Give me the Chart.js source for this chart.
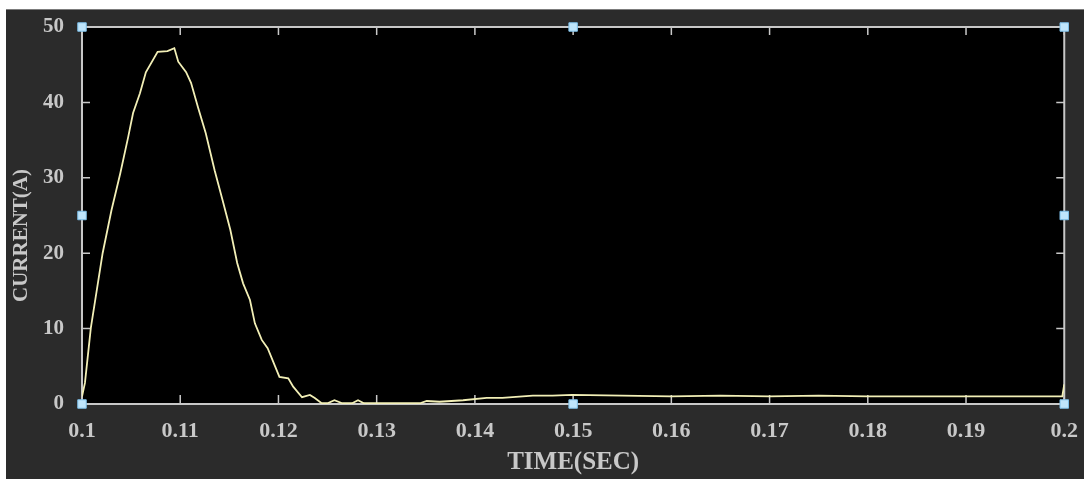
<!DOCTYPE html>
<html>
<head>
<meta charset="utf-8">
<script src="https://cdn.jsdelivr.net/npm/chart.js@4.4.1/dist/chart.umd.min.js"></script>
<style>
  body { margin: 0; background: #ffffff; }
  #bg { position: absolute; left: 6px; top: 9px; width: 1078px; height: 470px; background: #2b2b2b; border-top: 1px solid #7c7c7c; box-sizing: border-box; }
  #chart { position: absolute; left: 6px; top: 9px; }
</style>
</head>
<body>
<div id="bg"></div>
<canvas id="chart" width="1078" height="470"></canvas>
<script>
// current trace
const timeValues = [0.1000, 0.1003, 0.1009, 0.1021, 0.1030, 0.1039, 0.1047, 0.1052, 0.1059, 0.1065,
  0.1077, 0.1087, 0.1094, 0.1098, 0.1106, 0.1111, 0.1118, 0.1126, 0.1135, 0.1143,
  0.1151, 0.1158, 0.1164, 0.1171, 0.1176, 0.1183, 0.1189, 0.1201, 0.1210, 0.1215,
  0.1224, 0.1232, 0.1237, 0.1244, 0.1250, 0.1257, 0.1265, 0.1275, 0.1281, 0.1287,
  0.1308, 0.1344, 0.1351, 0.1364, 0.1388, 0.1412, 0.1428, 0.1459, 0.1479, 0.1499,
  0.1550, 0.1600, 0.1650, 0.1700, 0.1750, 0.1800, 0.1850, 0.1900, 0.1950, 0.1998, 0.2000];
const currentValues = [1.0, 2.8, 10.1, 20.0, 25.7, 30.6, 35.4, 38.6, 41.2, 44.0,
  46.7, 46.8, 47.2, 45.4, 44.0, 42.6, 39.4, 35.9, 31.0, 27.1,
  23.1, 18.7, 16.0, 13.8, 10.7, 8.5, 7.4, 3.6, 3.4, 2.3,
  0.9, 1.2, 0.8, 0.1, 0.1, 0.5, 0.1, 0.1, 0.5, 0.1,
  0.1, 0.1, 0.4, 0.3, 0.5, 0.8, 0.8, 1.1, 1.1, 1.2,
  1.1, 1.0, 1.1, 1.0, 1.1, 1.0, 1.0, 1.0, 1.0, 1.0, 2.6];

// selection handles round the axes box
const handleX = [0.1, 0.15, 0.2, 0.1, 0.2, 0.1, 0.15, 0.2];
const handleY = [50, 50, 50, 25, 25, 0, 0, 0];

const xTitle = 'TIME(SEC)';
const yTitle = 'CURRENT(A)';

const serif = "'Liberation Serif', 'Times New Roman', serif";
const axisColor = '#c8c8c8';

const trace = timeValues.map((t, i) => ({ x: t, y: currentValues[i] }));
const handles = handleX.map((t, i) => ({ x: t, y: handleY[i] }));

// black plot area, box with inward ticks, rotated y title
const scopeBox = {
  id: 'scopeBox',
  beforeDatasetsDraw(chart) {
    const ctx = chart.ctx;
    const a = chart.chartArea;
    const xs = chart.scales.x;
    const ys = chart.scales.y;
    ctx.save();
    ctx.fillStyle = '#000000';
    ctx.fillRect(a.left, a.top, a.right - a.left, a.bottom - a.top);
    ctx.strokeStyle = axisColor;
    ctx.lineWidth = 2;
    ctx.strokeRect(a.left, a.top, a.right - a.left, a.bottom - a.top);
    ctx.lineWidth = 1.5;
    ctx.beginPath();
    xs.ticks.forEach(t => {
      const px = xs.getPixelForValue(t.value);
      ctx.moveTo(px, a.bottom); ctx.lineTo(px, a.bottom - 9);
      ctx.moveTo(px, a.top); ctx.lineTo(px, a.top + 8);
    });
    ys.ticks.forEach(t => {
      const py = ys.getPixelForValue(t.value);
      ctx.moveTo(a.left, py); ctx.lineTo(a.left + 8, py);
      ctx.moveTo(a.right, py); ctx.lineTo(a.right - 8, py);
    });
    ctx.stroke();
    ctx.restore();
  },
  afterDraw(chart) {
    const ctx = chart.ctx;
    const ys = chart.scales.y;
    ctx.save();
    ctx.translate(16, ys.getPixelForValue(25) + 20);
    ctx.rotate(-Math.PI / 2);
    ctx.font = 'bold 21px ' + serif;
    ctx.fillStyle = axisColor;
    ctx.textAlign = 'center';
    ctx.textBaseline = 'middle';
    ctx.fillText(yTitle, 0, 0);
    ctx.restore();
  }
};

new Chart(document.getElementById('chart'), {
  type: 'line',
  data: {
    datasets: [
      {
        data: handles,
        showLine: false,
        pointStyle: 'rect',
        pointRadius: 6,
        pointBackgroundColor: '#bfe5fb',
        pointBorderColor: '#7dbfe8',
        pointBorderWidth: 1,
        clip: false,
        order: 0
      },
      {
        data: trace,
        borderColor: '#f2efb6',
        borderWidth: 1.8,
        pointRadius: 0,
        tension: 0,
        order: 1
      }
    ]
  },
  options: {
    responsive: false,
    animation: false,
    layout: { padding: { left: 0, top: 18, right: 14, bottom: 0 } },
    plugins: { legend: { display: false }, tooltip: { enabled: false } },
    scales: {
      x: {
        type: 'linear',
        min: 0.1,
        max: 0.2,
        grid: { display: false },
        border: { display: false },
        ticks: {
          stepSize: 0.01,
          autoSkip: false,
          maxRotation: 0,
          padding: 6,
          color: axisColor,
          font: { family: serif, size: 22, weight: 'bold' },
          callback: v => String(+v.toFixed(2))
        },
        title: {
          display: true,
          text: xTitle,
          color: axisColor,
          font: { family: serif, size: 25, weight: 'bold', lineHeight: 1 },
          padding: { top: 0, bottom: 4 }
        },
        afterFit: s => { s.height = 75; }
      },
      y: {
        min: 0,
        max: 50,
        grid: { display: false },
        border: { display: false },
        ticks: {
          stepSize: 10,
          padding: 10,
          color: axisColor,
          font: { family: serif, size: 21, weight: 'bold' }
        },
        afterFit: s => { s.width = 76; s.paddingTop = 0; s.paddingBottom = 0; }
      }
    }
  },
  plugins: [scopeBox]
});
</script>
</body>
</html>
